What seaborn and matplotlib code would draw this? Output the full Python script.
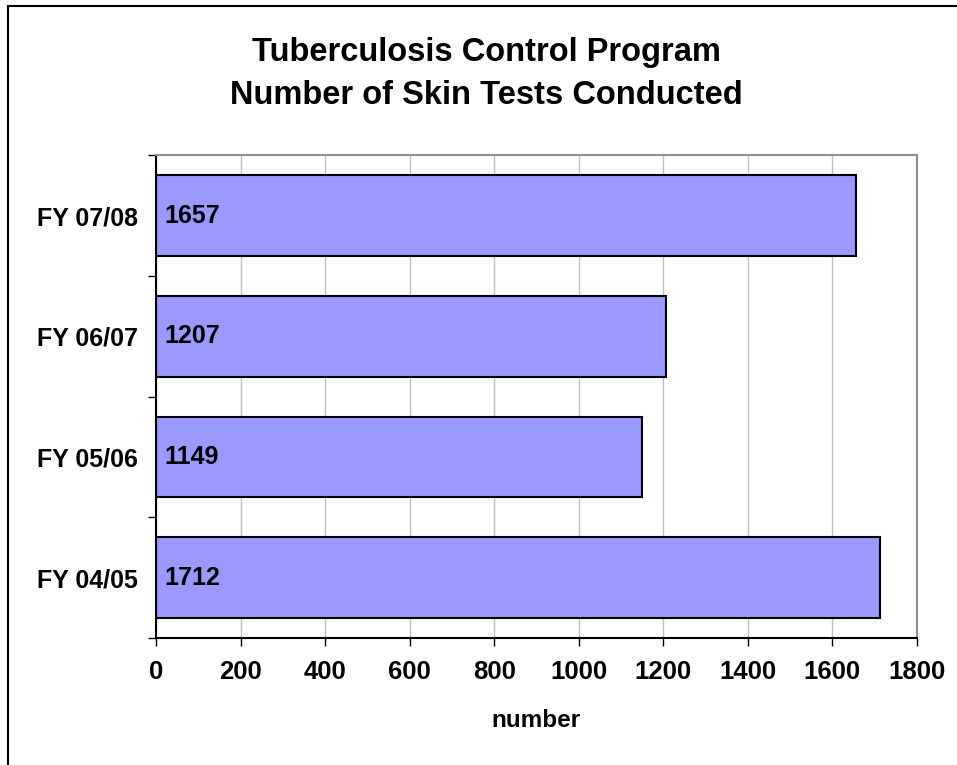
import matplotlib
matplotlib.use("Agg")
import matplotlib.pyplot as plt
import matplotlib.patches as mpatches
from matplotlib.ticker import FixedLocator, MultipleLocator
import seaborn as sns
import pandas as pd

years = ["FY 07/08", "FY 06/07", "FY 05/06", "FY 04/05"]
tests = [1657, 1207, 1149, 1712]
title_lines = ["Tuberculosis Control Program", "Number of Skin Tests Conducted"]

df = pd.DataFrame({"year": years, "number": tests})

sns.set_theme(style="white")
plt.rcParams["font.family"] = ["Liberation Sans", "DejaVu Sans"]
plt.rcParams["font.weight"] = "bold"
plt.rcParams["text.color"] = "black"
plt.rcParams["xtick.color"] = "black"
plt.rcParams["ytick.color"] = "black"
plt.rcParams["axes.labelcolor"] = "black"

fig = plt.figure(figsize=(9.57, 7.65), dpi=100)
ax = fig.add_axes([0.163, 0.166, 0.795, 0.631])

sns.barplot(data=df, x="number", y="year", orient="h", color="#9999FF",
            saturation=1, edgecolor="black", linewidth=1.5, width=0.667, ax=ax)

ax.set_xlim(0, 1800)
ax.set_ylim(len(years) - 0.5, -0.5)
ax.xaxis.set_major_locator(MultipleLocator(200))
ax.grid(axis="x", color="#c0c0c0", linewidth=1)
ax.set_axisbelow(True)

# value labels at the start of each bar
for p, v in zip(ax.patches, tests):
    ax.annotate(f"{v}", (p.get_x(), p.get_y() + p.get_height() / 2),
                xytext=(6, 0), textcoords="offset points",
                va="center", ha="left", fontsize=18, fontweight="bold", color="black")

# category ticks drawn at the boundaries
ax.yaxis.set_minor_locator(FixedLocator([i - 0.5 for i in range(len(years) + 1)]))
ax.tick_params(axis="y", which="major", length=0, pad=13, labelsize=18)
ax.tick_params(axis="y", which="minor", left=True, length=6, width=1, color="black", direction="out")
ax.tick_params(axis="x", which="major", bottom=True, length=6, width=1, color="black",
               direction="out", pad=10, labelsize=18.5)
for lab in ax.get_xticklabels() + ax.get_yticklabels():
    lab.set_fontweight("bold")

for side in ["left", "bottom"]:
    ax.spines[side].set_color("black")
    ax.spines[side].set_linewidth(1.5)
for side in ["top", "right"]:
    ax.spines[side].set_color("#909090")
    ax.spines[side].set_linewidth(1.5)

ax.set_ylabel("")
ax.set_xlabel("number", fontsize=17.5, fontweight="bold", labelpad=18)

# two-line title, centred on the chart area
fig.text(486 / 957, 1 - 52 / 765, title_lines[0], ha="center", va="center",
         fontsize=23.5, fontweight="bold")
fig.text(486 / 957, 1 - 95 / 765, title_lines[1], ha="center", va="center",
         fontsize=23.5, fontweight="bold")

# outer chart border (only left/top visible in the reference)
fig.patches.append(mpatches.Rectangle((8 / 957, -0.05), 1.1, 1.05 - 6 / 765,
                                      transform=fig.transFigure, fill=False,
                                      edgecolor="black", linewidth=1.5))

fig.savefig("out.png", dpi=100)
